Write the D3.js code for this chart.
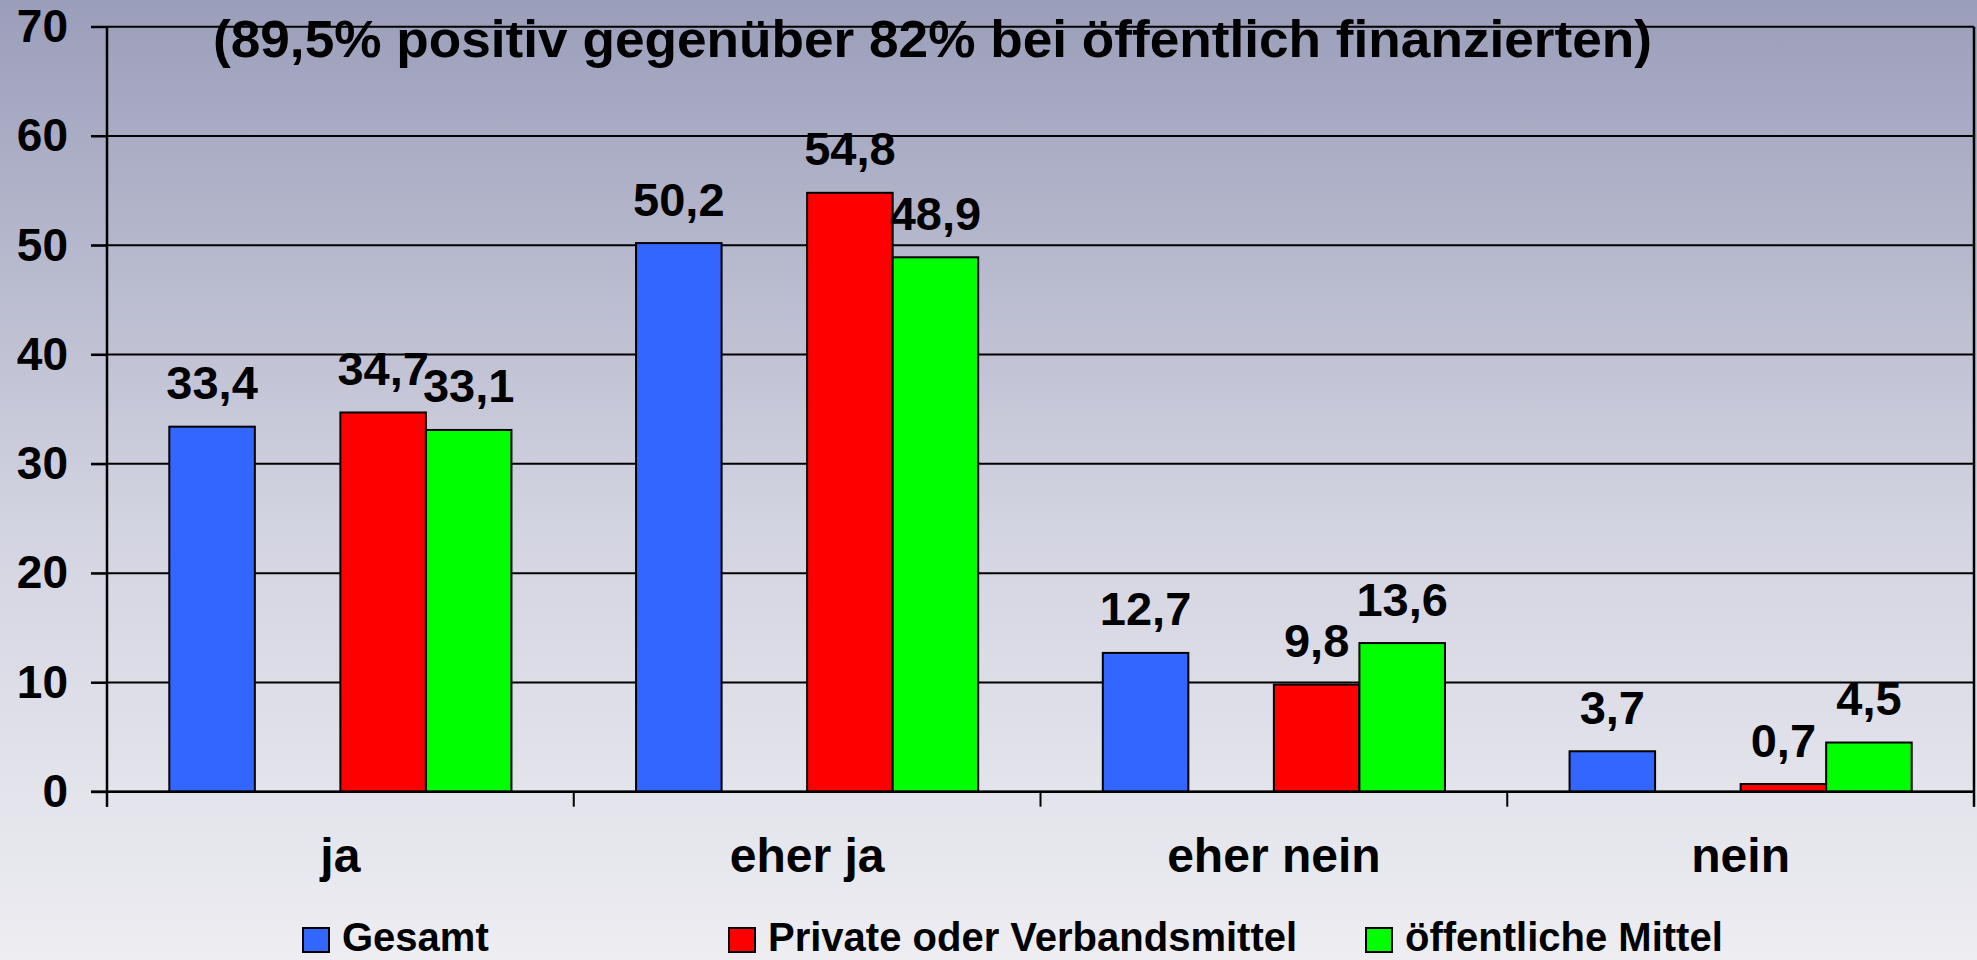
<!DOCTYPE html>
<html>
<head>
<meta charset="utf-8">
<script src="https://cdn.jsdelivr.net/npm/d3@7/dist/d3.min.js"></script>
<style>
html,body{margin:0;padding:0;overflow:hidden;}
svg{display:block;font-family:"Liberation Sans",Arial,sans-serif;font-weight:bold;}
</style>
</head>
<body>
<script>
const categories = ["ja", "eher ja", "eher nein", "nein"];
const seriesNames = ["Gesamt", "Private oder Verbandsmittel", "öffentliche Mittel"];
const gesamt = [33.4, 50.2, 12.7, 3.7];
const privat = [34.7, 54.8, 9.8, 0.7];
const oeffentlich = [33.1, 48.9, 13.6, 4.5];
const yTicks = [0, 10, 20, 30, 40, 50, 60, 70];
const titleText = "(89,5% positiv gegenüber 82% bei öffentlich finanzierten)";

(function () {
const W = 1977, H = 960;
const colors = ["#3366ff", "#ff0000", "#00ff00"];
const seriesVals = [gesamt, privat, oeffentlich];
const slotKeys = ["s0", "gap", "s1", "s2"];

const svg = d3.select("body").append("svg").attr("width", W).attr("height", H);
const defs = svg.append("defs");
const grad = defs.append("linearGradient").attr("id", "bg").attr("x1", 0).attr("y1", 0).attr("x2", 0).attr("y2", 1);
grad.append("stop").attr("offset", "0%").attr("stop-color", "#9b9eba");
grad.append("stop").attr("offset", "55%").attr("stop-color", "#d3d4e1");
grad.append("stop").attr("offset", "100%").attr("stop-color", "#ededf2");
svg.append("rect").attr("width", W).attr("height", H).attr("fill", "url(#bg)");

const pLeft = 107, pRight = 1974, pTop = 26.7, pBottom = 791.7;
const x = d3.scaleBand().domain(categories).range([pLeft, pRight]).padding(0);
const inset = x.bandwidth() * 0.1335;
const xi = d3.scaleBand().domain(slotKeys).range([inset, x.bandwidth() - inset]).padding(0);
const y = d3.scaleLinear().domain([0, 70]).range([pBottom, pTop]);

// gridlines
svg.append("g").selectAll("line").data(yTicks).join("line")
  .attr("x1", pLeft - 16).attr("x2", pRight)
  .attr("y1", d => y(d)).attr("y2", d => y(d))
  .attr("stroke", "#000").attr("stroke-width", 2);

// y axis labels
const yAxis = d3.axisLeft(y).tickValues(yTicks).tickSize(16).tickPadding(23).tickFormat(d3.format("d"));
const gy = svg.append("g").attr("transform", `translate(${pLeft},0)`).call(yAxis);
gy.select(".domain").remove();
gy.selectAll("line").attr("stroke", "#000").attr("stroke-width", 2);
gy.selectAll("text").attr("font-size", 46).attr("font-weight", "bold").attr("fill", "#000")
  .attr("font-family", "Liberation Sans, Arial, sans-serif");

// plot frame lines (left axis, right border)
svg.append("line").attr("x1", pLeft).attr("x2", pLeft).attr("y1", pTop).attr("y2", pBottom + 15).attr("stroke", "#000").attr("stroke-width", 2.5);
svg.append("line").attr("x1", pRight).attr("x2", pRight).attr("y1", pTop).attr("y2", pBottom + 15).attr("stroke", "#000").attr("stroke-width", 2.5);

// x axis ticks at category boundaries
const bounds = categories.map(c => x(c)).concat([pRight]);
svg.append("g").selectAll("line").data(bounds).join("line")
  .attr("x1", d => d).attr("x2", d => d).attr("y1", pBottom).attr("y2", pBottom + 15)
  .attr("stroke", "#000").attr("stroke-width", 2);

// bars
const barData = [];
categories.forEach((c, ci) => {
  seriesVals.forEach((vals, si) => {
    barData.push({cat: c, si, v: vals[ci]});
  });
});
const slotOf = si => ["s0", "s1", "s2"][si];
svg.append("g").selectAll("rect").data(barData).join("rect")
  .attr("x", d => x(d.cat) + xi(slotOf(d.si)))
  .attr("y", d => y(d.v))
  .attr("width", xi.bandwidth())
  .attr("height", d => y(0) - y(d.v))
  .attr("fill", d => colors[d.si])
  .attr("stroke", "#000").attr("stroke-width", 2);

// baseline
svg.append("line").attr("x1", pLeft - 16).attr("x2", pRight).attr("y1", pBottom).attr("y2", pBottom).attr("stroke", "#000").attr("stroke-width", 2.5);

// value labels
const fmt = v => d3.format(".1f")(v).replace(".", ",");
svg.append("g").selectAll("text").data(barData).join("text")
  .attr("x", d => x(d.cat) + xi(slotOf(d.si)) + xi.bandwidth() / 2)
  .attr("y", d => y(d.v) - 27.5)
  .attr("text-anchor", "middle")
  .attr("font-size", 47).attr("fill", "#000")
  .text(d => fmt(d.v));

// category labels
svg.append("g").selectAll("text").data(categories).join("text")
  .attr("x", d => x(d) + x.bandwidth() / 2)
  .attr("y", 872)
  .attr("text-anchor", "middle")
  .attr("font-size", 48).attr("fill", "#000")
  .text(d => d);

// title
svg.append("text").attr("x", 213).attr("y", 57).attr("font-size", 52).attr("fill", "#000")
  .attr("textLength", 1439).attr("lengthAdjust", "spacingAndGlyphs")
  .text(titleText);

// legend
const legX = [303, 729, 1366];
const leg = svg.append("g").selectAll("g").data(seriesNames).join("g")
  .attr("transform", (d, i) => `translate(${legX[i]},928)`);
leg.append("rect").attr("width", 26).attr("height", 24)
  .attr("fill", (d, i) => colors[i]).attr("stroke", "#000").attr("stroke-width", 2);
leg.append("text").attr("x", 39).attr("y", 23).attr("font-size", 40).attr("fill", "#000").text(d => d);
})();
</script>
</body>
</html>
